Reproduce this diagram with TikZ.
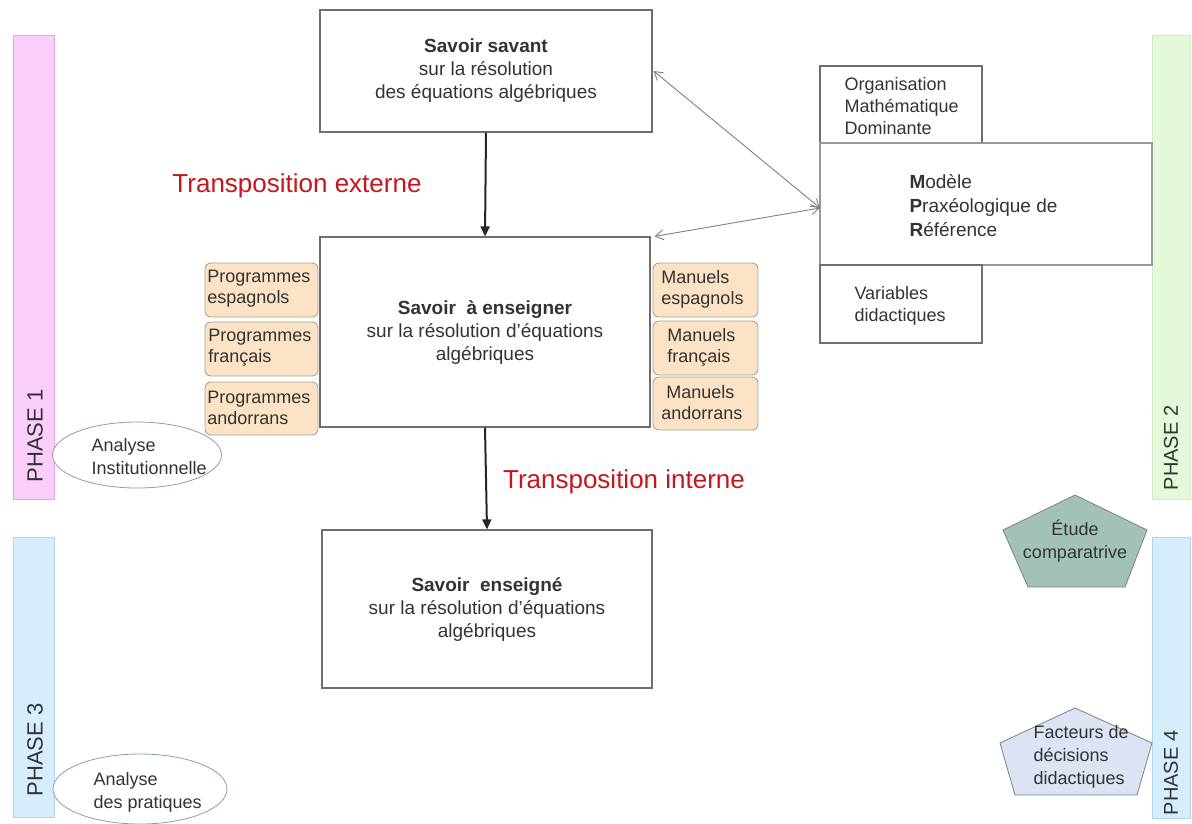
\documentclass[tikz,border=0pt]{standalone}
\usepackage{fontspec}
\setmainfont{Liberation Sans}
\usetikzlibrary{arrows.meta,shapes.geometric}
\definecolor{boxgray}{HTML}{6E6E6E}
\definecolor{txtgray}{HTML}{333333}
\definecolor{peach}{HTML}{FCE3C6}
\definecolor{peachline}{HTML}{A9A49C}
\definecolor{redtxt}{HTML}{C4161C}
\definecolor{pinkfill}{HTML}{FBCDFB}
\definecolor{pinkline}{HTML}{E6A3EA}
\definecolor{bluefill}{HTML}{D6EEFC}
\definecolor{blueline}{HTML}{AFD6EE}
\definecolor{greenfill}{HTML}{E3F9DA}
\definecolor{greenline}{HTML}{D2EDC6}
\definecolor{pentgreen}{HTML}{A3C2B6}
\definecolor{pentblue}{HTML}{DCE3F2}
\definecolor{ellline}{HTML}{8E9AB8}
\tikzset{
  mainbox/.style={draw=boxgray, line width=1.2pt, fill=white, inner sep=0pt, align=center, font=\fontsize{19}{23}\selectfont, text=txtgray},
  sidebox/.style={draw=peachline, line width=0.9pt, fill=peach, rounded corners=6pt, inner sep=0pt, font=\fontsize{18}{21}\selectfont, text=txtgray},
  rightbox/.style={draw=boxgray, line width=1.1pt, fill=white, inner sep=0pt},
  phasebar/.style={line width=0.8pt, inner sep=0pt},
  phasetxt/.style={rotate=90, font=\fontsize{22}{25}\selectfont, text=txtgray},
  redlabel/.style={text=redtxt, font=\fontsize{26}{28}\selectfont},
  ell/.style={ellipse, draw=ellline, line width=0.8pt, fill=white, inner sep=0pt},
  elltxt/.style={font=\fontsize{18}{23}\selectfont, text=txtgray, align=left},
  mainarrow/.style={-{Triangle[length=10pt,width=9pt]}, line width=2pt, black!85},
  dblarrow/.style={{Straight Barb[length=8pt,width=10pt]}-{Straight Barb[length=8pt,width=10pt]}, line width=0.9pt, gray},
  penttxt/.style={font=\fontsize{18}{23}\selectfont, text=txtgray, align=center},
}
\begin{document}
\begin{tikzpicture}[x=1pt,y=-1pt]
\useasboundingbox (0,0) rectangle (1192,823);

% phase bars
\node[phasebar, draw=pinkline, fill=pinkfill, minimum width=41pt, minimum height=464pt] (ph1) at (33.5,267) {};
\node[phasetxt] (ph1t) at (35,436) {PHASE 1};
\node[phasebar, draw=blueline, fill=bluefill, minimum width=41pt, minimum height=280pt] (ph3) at (33.5,677) {};
\node[phasetxt] (ph3t) at (35,750) {PHASE 3};
\node[phasebar, draw=greenline, fill=greenfill, minimum width=38pt, minimum height=464pt] (ph2) at (1171.5,267) {};
\node[phasetxt, font=\fontsize{20}{22}\selectfont] (ph2t) at (1171,448) {PHASE 2};
\node[phasebar, draw=blueline, fill=bluefill, minimum width=38pt, minimum height=281pt] (ph4) at (1171.5,677.5) {};
\node[phasetxt, font=\fontsize{20}{22}\selectfont] (ph4t) at (1171,773) {PHASE 4};

% main boxes
\node[mainbox, minimum width=332pt, minimum height=122pt] (savant) at (486,71)
  {\textbf{Savoir savant}\\sur la résolution\\des équations algébriques};
\node[mainbox, minimum width=330pt, minimum height=190pt] (enseigner) at (485,332)
  {\textbf{Savoir \ à enseigner}\\sur la résolution d'équations\\algébriques};
\node[mainbox, minimum width=330pt, minimum height=158pt] (enseigne) at (487,609)
  {\textbf{Savoir \ enseigné}\\sur la résolution d'équations\\algébriques};

% side boxes
\node[sidebox, minimum width=113pt, minimum height=54pt] (pe) at (261.5,290) {};
\node[sidebox, minimum width=113pt, minimum height=54pt] (pf) at (261.5,349) {};
\node[sidebox, minimum width=113pt, minimum height=53pt] (pa) at (261.5,408.5) {};
\node[sidebox, draw=none, fill=none, align=left, anchor=west] (pet) at (207,289) {Programmes\\espagnols};
\node[sidebox, draw=none, fill=none, align=left, anchor=west] (pft) at (208,348) {Programmes\\français};
\node[sidebox, draw=none, fill=none, align=left, anchor=west] (pat) at (207,408) {Programmes\\andorrans};
\node[sidebox, minimum width=105pt, minimum height=54pt] (me) at (705.5,290) {};
\node[sidebox, minimum width=105pt, minimum height=54pt] (mf) at (705.5,348) {};
\node[sidebox, minimum width=105pt, minimum height=53pt] (ma) at (705.5,403.5) {};
\node[sidebox, draw=none, fill=none, align=left, anchor=west] (met) at (661,289) {Manuels\\espagnols};
\node[sidebox, draw=none, fill=none, align=left, anchor=west] (mft) at (667,347) {Manuels\\français};
\node[sidebox, draw=none, fill=none, align=left, anchor=west] (mat) at (661,403) {\hspace{5pt}Manuels\\andorrans};

% right boxes
\node[rightbox, minimum width=162pt, minimum height=77pt] (omd) at (901,104.5) {};
\node[font=\fontsize{18}{22}\selectfont, text=txtgray, align=left, anchor=west] (omdt) at (841,106) {Organisation\\Mathématique\\Dominante};
\node[rightbox, draw=boxgray!70, minimum width=332pt, minimum height=122pt] (mpr) at (986,204) {};
\node[font=\fontsize{19}{24}\selectfont, text=txtgray, align=left, anchor=west] (mprt) at (906,206) {\textbf{M}odèle\\\textbf{P}raxéologique de\\\textbf{R}éférence};
\node[rightbox, minimum width=162pt, minimum height=78pt] (vd) at (901,304) {};
\node[font=\fontsize{18}{22}\selectfont, text=txtgray, align=left, anchor=west] (vdt) at (851,306) {Variables\\didactiques};

% labels
\node[redlabel] (ext) at (297,186) {Transposition externe};
\node[redlabel] (int) at (624,482) {Transposition interne};

% arrows
\draw[mainarrow] (savant.south) -- (enseigner.north);
\draw[mainarrow] (enseigner.south) -- (enseigne.north);
\coordinate (mprin) at (820,208);
\draw[dblarrow] ([xshift=1pt]savant.east) -- (mprin);
\coordinate (ene) at ([xshift=4pt]enseigner.north east);
\draw[dblarrow] (ene) -- (mprin);

% ellipses
\node[ell, minimum width=169pt, minimum height=66pt] (ai) at (137,455) {};
\node[elltxt, anchor=west] (ait) at (88,457) {Analyse\\Institutionnelle};
\node[ell, minimum width=174pt, minimum height=70pt] (ap) at (140,789) {};
\node[elltxt, anchor=west] (apt) at (90,792) {Analyse\\des pratiques};

% pentagons
\coordinate (p1a) at (1075,495);
\coordinate (p1b) at (1147,530);
\coordinate (p1c) at (1125,587);
\coordinate (p1d) at (1028,587);
\coordinate (p1e) at (1003,530);
\draw[draw=gray, line width=0.8pt, fill=pentgreen] (p1a) -- (p1b) -- (p1c) -- (p1d) -- (p1e) -- cycle;
\node[penttxt] (etude) at (1075,541) {Étude\\comparatrive};

\coordinate (p2a) at (1075,708);
\coordinate (p2b) at (1152,743);
\coordinate (p2c) at (1137,795);
\coordinate (p2d) at (1015,795);
\coordinate (p2e) at (1000,743);
\draw[draw=gray, line width=0.8pt, fill=pentblue] (p2a) -- (p2b) -- (p2c) -- (p2d) -- (p2e) -- cycle;
\node[penttxt, align=left, anchor=west] (fact) at (1030,757) {Facteurs de\\décisions\\didactiques};
\end{tikzpicture}
\end{document}
